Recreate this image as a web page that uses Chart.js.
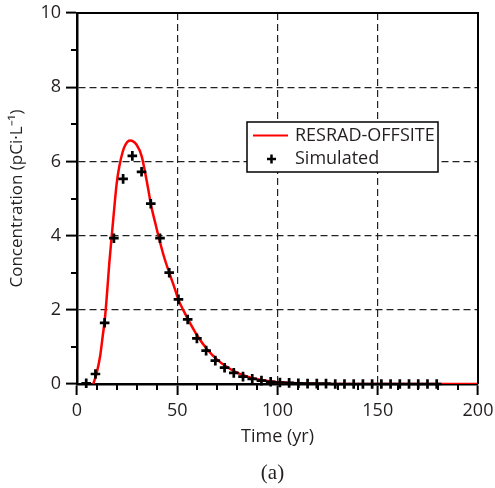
<!DOCTYPE html>
<html>
<head>
<meta charset="utf-8">
<script src="https://cdn.jsdelivr.net/npm/chart.js@4/dist/chart.umd.min.js"></script>
<style>
html,body{margin:0;padding:0;background:#fff;}
#wrap{width:495px;height:488px;position:relative;}
</style>
</head>
<body>
<div id="wrap"><canvas id="c" width="495" height="488"></canvas></div>
<script>
// ---- data ----
const curveTime = [8.1, 9.8, 11.5, 12.8, 14.0, 15.1, 16.1, 17.3, 18.5, 19.8, 21.1, 22.8, 24.4, 26.4, 29.8, 32.3, 33.9, 35.6, 36.8, 38.9, 40.9, 43.4, 46.0, 48.9, 50.5, 53.4, 56.4, 60, 65, 70, 75, 80, 85, 90, 95, 100, 110, 120, 130, 200];
const curveConc = [0, 0.29, 0.74, 1.28, 1.81, 2.53, 3.25, 3.97, 4.69, 5.41, 5.86, 6.26, 6.47, 6.56, 6.44, 6.13, 5.72, 5.23, 4.85, 4.37, 3.93, 3.43, 3.0, 2.55, 2.28, 1.95, 1.64, 1.3, 0.93, 0.65, 0.45, 0.3, 0.2, 0.13, 0.08, 0.05, 0.02, 0.01, 0, 0];

const simTime = [4.6, 9.2, 13.8, 18.4, 23.0, 27.6, 32.2, 36.8, 41.4, 46.0, 50.6, 55.2, 59.8, 64.4, 69.0, 73.6, 78.2, 82.8, 87.4, 92.0, 96.6, 101.2, 105.8, 110.4, 115.0, 119.6, 124.2, 128.8, 133.4, 138.0, 142.6, 147.2, 151.8, 156.4, 161.0, 165.6, 170.2, 174.8, 179.4];
const simConc = [0.02, 0.27, 1.65, 3.93, 5.53, 6.15, 5.72, 4.86, 3.93, 3.00, 2.28, 1.74, 1.23, 0.90, 0.63, 0.44, 0.30, 0.20, 0.14, 0.09, 0.06, 0.04, 0.03, 0.02, 0.01, 0.01, 0.01, 0, 0, 0, 0, 0, 0, 0, 0, 0, 0, 0, 0];

const seriesLabels = ['RESRAD-OFFSITE', 'Simulated'];
const xMajorTicks = [0, 50, 100, 150, 200];
const xMinorTicks = [10, 20, 30, 40, 60, 70, 80, 90, 110, 120, 130, 140, 160, 170, 180, 190];
const yMajorTicks = [0, 2, 4, 6, 8, 10];
const yMinorTicks = [1, 3, 5, 7, 9];
const xTitle = 'Time (yr)';
const yTitle = 'Concentration (pCi·L⁻¹)';
const caption = '(a)';

const TXT = '#231f20';
const FONT = "'Open Sans'";

const curveData = curveTime.map((t, i) => ({x: t, y: curveConc[i]}));
const simData = simTime.map((t, i) => ({x: t, y: simConc[i]}));

const gridColor = (max) => (ctx) => {
  const v = ctx.tick ? ctx.tick.value : null;
  return (v === 0 || v === max) ? 'rgba(0,0,0,0)' : '#222';
};

const framePlugin = {
  id: 'frame',
  afterDatasetsDraw(chart) {
    const {ctx, chartArea: a, scales} = chart;
    ctx.save();
    ctx.setLineDash([]);
    // top and right frame
    ctx.strokeStyle = '#000';
    ctx.lineWidth = 2;
    ctx.beginPath();
    ctx.moveTo(a.left, a.top);
    ctx.lineTo(a.right, a.top);
    ctx.lineTo(a.right, a.bottom);
    ctx.stroke();
    // minor ticks
    ctx.lineWidth = 2;
    ctx.beginPath();
    xMinorTicks.forEach(v => {
      const px = Math.round(scales.x.getPixelForValue(v));
      ctx.moveTo(px, a.bottom);
      ctx.lineTo(px, a.bottom + 6);
    });
    yMinorTicks.forEach(v => {
      const py = Math.round(scales.y.getPixelForValue(v));
      ctx.moveTo(a.left, py);
      ctx.lineTo(a.left - 6, py);
    });
    ctx.stroke();

    // legend box
    const bx = a.left + 170, by = a.top + 109, bw = 191, bh = 50;
    ctx.fillStyle = '#fff';
    ctx.fillRect(bx, by, bw, bh);
    ctx.strokeStyle = '#000';
    ctx.lineWidth = 1.5;
    ctx.strokeRect(bx, by, bw, bh);
    const ds = chart.data.datasets;
    // line entry
    ctx.strokeStyle = ds[1].borderColor;
    ctx.lineWidth = 2.2;
    ctx.beginPath();
    ctx.moveTo(bx + 6, by + 13.5);
    ctx.lineTo(bx + 41, by + 13.5);
    ctx.stroke();
    // cross entry
    ctx.strokeStyle = '#000';
    ctx.lineWidth = 2.5;
    ctx.beginPath();
    const cx = bx + 24.5, cy = by + 37;
    ctx.moveTo(cx - 4.5, cy); ctx.lineTo(cx + 4.5, cy);
    ctx.moveTo(cx, cy - 4.5); ctx.lineTo(cx, cy + 4.5);
    ctx.stroke();
    ctx.fillStyle = TXT;
    ctx.font = "18px " + FONT;
    ctx.textBaseline = 'middle';
    ctx.textAlign = 'left';
    ctx.fillText(ds[1].label, bx + 48, by + 13.5);
    ctx.fillText(ds[0].label, bx + 48, by + 36.5);

    // caption
    ctx.font = "21px 'Liberation Serif'";
    ctx.textAlign = 'center';
    ctx.fillText(caption, (a.left + a.right) / 2 - 5, 473);
    ctx.restore();
  }
};

new Chart(document.getElementById('c'), {
  type: 'scatter',
  data: {
    datasets: [
      {
        label: seriesLabels[1],
        data: simData,
        pointStyle: 'cross',
        pointRadius: 4.8,
        pointBorderWidth: 2.7,
        borderColor: '#000',
        backgroundColor: '#000',
        showLine: false,
        clip: false
      },
      {
        label: seriesLabels[0],
        data: curveData,
        showLine: true,
        borderColor: '#ff0000',
        borderWidth: 2.5,
        pointRadius: 0,
        cubicInterpolationMode: 'monotone',
        fill: false
      }
    ]
  },
  plugins: [framePlugin],
  options: {
    responsive: false,
    animation: false,
    devicePixelRatio: 1,
    layout: {padding: {top: 13, right: 0, left: 0, bottom: 35}},
    plugins: {
      legend: {display: false},
      tooltip: {enabled: false},
      title: {display: false}
    },
    scales: {
      x: {
        type: 'linear',
        min: 0, max: 200,
        afterBuildTicks: (s) => { s.ticks = xMajorTicks.map(v => ({value: v})); },
        afterFit: (s) => { s.height = 69; s.paddingRight = 17; s.paddingLeft = 0; },
        ticks: {color: TXT, font: {family: FONT, size: 18}, padding: 5, maxRotation: 0, autoSkip: false},
        grid: {color: gridColor(200), lineWidth: 1.2, drawTicks: true, tickLength: 11, tickColor: '#000', tickWidth: 2, tickBorderDash: []},
        border: {display: true, color: '#000', width: 2.5, dash: [7, 4]},
        title: {display: true, text: xTitle, color: TXT, font: {family: FONT, size: 18, lineHeight: 1.2}, padding: {top: 0, bottom: 5}}
      },
      y: {
        type: 'linear',
        min: 0, max: 10,
        afterBuildTicks: (s) => { s.ticks = yMajorTicks.map(v => ({value: v})); },
        afterFit: (s) => { s.width = 77; s.paddingTop = 0; s.paddingBottom = 0; },
        ticks: {color: TXT, font: {family: FONT, size: 18}, padding: 5},
        grid: {color: gridColor(10), lineWidth: 1.2, drawTicks: true, tickLength: 11, tickColor: '#000', tickWidth: 2, tickBorderDash: []},
        border: {display: true, color: '#000', width: 2.5, dash: [7, 4]},
        title: {display: true, text: yTitle, color: TXT, font: {family: FONT, size: 17, lineHeight: 1.2}, padding: {top: 7, bottom: 0}}
      }
    }
  }
});
</script>
</body>
</html>
